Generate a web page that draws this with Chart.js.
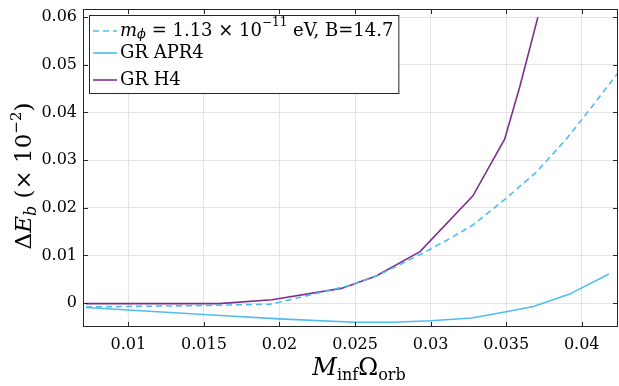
<!DOCTYPE html>
<html>
<head>
<meta charset="utf-8">
<script src="https://cdn.jsdelivr.net/npm/chart.js@4"></script>
<style>
  html, body { margin: 0; padding: 0; background: #fff; }
  #wrap { width: 619px; height: 386px; }
</style>
</head>
<body>
<div id="wrap"><canvas id="c" width="619" height="386"></canvas></div>
<script>
// values
const xTicks = [0.01, 0.015, 0.02, 0.025, 0.03, 0.035, 0.04];
const yTicks = [0, 0.01, 0.02, 0.03, 0.04, 0.05, 0.06];

const xScalar = [0.0072, 0.0150, 0.0194, 0.0200, 0.0245, 0.0265, 0.0295, 0.0313, 0.0328, 0.0350, 0.0370, 0.0390, 0.0405, 0.0424];
const yScalar = [-0.0008, -0.0005, -0.0002, 0.0002, 0.0036, 0.0058, 0.0105, 0.0136, 0.0164, 0.0220, 0.0275, 0.0345, 0.0405, 0.0483];

const xApr4 = [0.0072, 0.0161, 0.0200, 0.0250, 0.0275, 0.0300, 0.0327, 0.0350, 0.0368, 0.0392, 0.0418];
const yApr4 = [-0.0009, -0.0026, -0.0033, -0.0040, -0.0040, -0.0037, -0.0031, -0.0018, -0.0007, 0.0019, 0.0061];

const xH4 = [0.0072, 0.0160, 0.0195, 0.0241, 0.0264, 0.0293, 0.0328, 0.0349, 0.0359, 0.0371];
const yH4 = [-0.0001, -0.0001, 0.0007, 0.0031, 0.0057, 0.0108, 0.0225, 0.0344, 0.0454, 0.0600];

const blue = '#4DBEEE';
const purple = '#7E2F8E';
const ink = '#262626';
const serif = '"DejaVu Serif", "Liberation Serif", serif';

const pts = (xs, ys) => xs.map((v, i) => ({ x: v, y: ys[i] }));

// draw a row of text pieces: [text, size, italic, dy]
function rich(ctx, parts, x, y, measureOnly) {
    let cx = x;
    parts.forEach(([t, size, it, dy]) => {
        ctx.font = (it ? 'italic ' : '') + size + 'px ' + serif;
        if (!measureOnly) ctx.fillText(t, cx, y + (dy || 0));
        cx += ctx.measureText(t).width;
    });
    return cx - x;
}

const legendRows = [
    { color: blue, dash: [6, 4], parts: [['m', 18, true], ['\u03d5', 13, true, 4], [' = 1.13 \u00d7 10', 18], ['\u221211', 12, false, -8], [' eV, B=14.7', 18]] },
    { color: blue, dash: [], parts: [['GR APR4', 18]] },
    { color: purple, dash: [], parts: [['GR H4', 18]] }
];

const decor = {
    id: 'decor',
    afterDraw(chart) {
        const { ctx, chartArea: a, scales: { x, y } } = chart;
        ctx.save();
        ctx.strokeStyle = ink;
        ctx.lineWidth = 1;
        ctx.beginPath();
        xTicks.forEach(v => {
            const p = Math.round(x.getPixelForValue(v)) + 0.5;
            ctx.moveTo(p, a.bottom); ctx.lineTo(p, a.bottom - 5);
            ctx.moveTo(p, a.top); ctx.lineTo(p, a.top + 5);
        });
        yTicks.forEach(v => {
            const p = Math.round(y.getPixelForValue(v)) + 0.5;
            ctx.moveTo(a.left, p); ctx.lineTo(a.left + 5, p);
            ctx.moveTo(a.right, p); ctx.lineTo(a.right - 5, p);
        });
        ctx.stroke();
        ctx.strokeRect(a.left + 0.5, a.top + 0.5, a.right - a.left - 1, a.bottom - a.top - 1);

        // legend
        const lx = a.left + 6, ly = a.top + 6;
        let tw = 0;
        legendRows.forEach(r => { tw = Math.max(tw, rich(ctx, r.parts, 0, 0, true)); });
        const w = 31 + tw + 5, h = 78;
        ctx.fillStyle = '#fff';
        ctx.fillRect(lx, ly, w, h);
        ctx.strokeRect(lx + 0.5, ly + 0.5, w, h);
        const rowsY = [ly + 16, ly + 38, ly + 65];
        legendRows.forEach((r, i) => {
            ctx.strokeStyle = r.color;
            ctx.lineWidth = 1.6;
            ctx.setLineDash(r.dash);
            ctx.beginPath();
            ctx.moveTo(lx + 4, rowsY[i]); ctx.lineTo(lx + 28, rowsY[i]);
            ctx.stroke();
            ctx.setLineDash([]);
            ctx.fillStyle = '#000';
            ctx.textBaseline = 'middle';
            rich(ctx, r.parts, lx + 31, rowsY[i]);
        });

        // axis titles
        ctx.fillStyle = '#000';
        ctx.textBaseline = 'alphabetic';
        const xt = [['M', 24, true], ['inf', 16, false, 5], ['\u03a9', 24], ['orb', 16, false, 5]];
        const xw = rich(ctx, xt, 0, 0, true);
        rich(ctx, xt, 359 - xw / 2, 375);

        const yt = [['\u0394', 23], ['E', 23, true], ['b', 16, true, 5], [' (', 23], ['\u00d7', 23], [' 10', 23], ['\u22122', 15, false, -10], [')', 23]];
        const yw = rich(ctx, yt, 0, 0, true);
        ctx.translate(31, 176);
        ctx.rotate(-Math.PI / 2);
        rich(ctx, yt, -yw / 2, 0);
        ctx.restore();
    }
};

const fmt = v => String(+v.toFixed(3));

new Chart(document.getElementById('c'), {
    type: 'scatter',
    data: {
        datasets: [
            { data: pts(xScalar, yScalar), borderColor: blue, borderWidth: 1.6, borderDash: [6, 4], showLine: true, pointRadius: 0 },
            { data: pts(xApr4, yApr4), borderColor: blue, borderWidth: 1.6, showLine: true, pointRadius: 0 },
            { data: pts(xH4, yH4), borderColor: purple, borderWidth: 1.6, showLine: true, pointRadius: 0 }
        ]
    },
    options: {
        responsive: false,
        animation: false,
        layout: { padding: { left: 0, top: 9, right: 1, bottom: 0 } },
        plugins: { legend: { display: false }, tooltip: { enabled: false } },
        scales: {
            x: {
                type: 'linear', min: 0.007, max: 0.0424,
                afterBuildTicks: s => { s.ticks = xTicks.map(v => ({ value: v })); },
                afterFit: s => { s.height = 59; s.paddingLeft = 0; s.paddingRight = 0; },
                grid: { color: '#e3e3e3', drawTicks: false },
                border: { display: false },
                ticks: { color: '#000', padding: 8, maxRotation: 0, font: { family: serif, size: 16 }, callback: fmt }
            },
            y: {
                type: 'linear', min: -0.005, max: 0.0617,
                afterBuildTicks: s => { s.ticks = yTicks.map(v => ({ value: v })); },
                afterFit: s => { s.width = 83; s.paddingTop = 0; s.paddingBottom = 0; },
                grid: { color: '#e3e3e3', drawTicks: false },
                border: { display: false },
                ticks: { color: '#000', padding: 6, font: { family: serif, size: 16 }, callback: fmt }
            }
        }
    },
    plugins: [decor]
});
</script>
</body>
</html>
